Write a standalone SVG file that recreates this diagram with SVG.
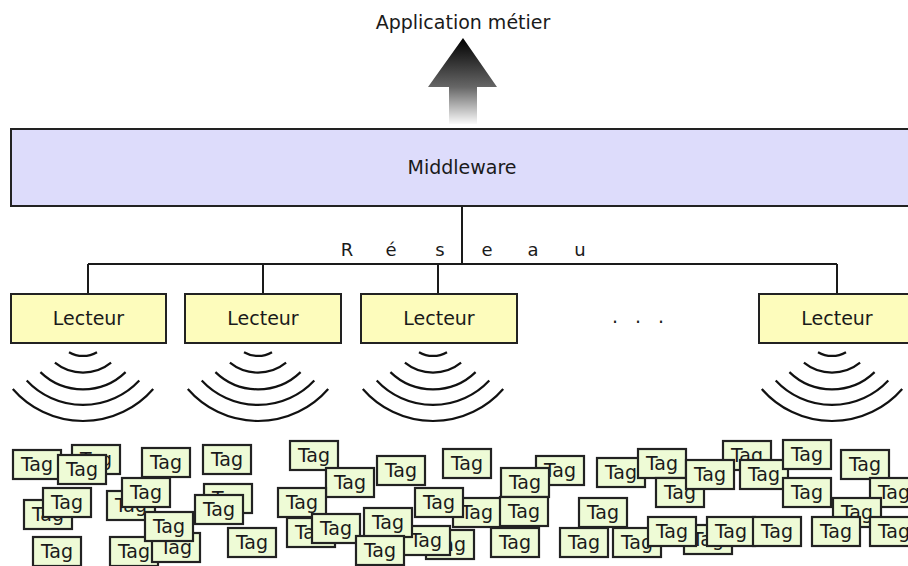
<svg xmlns="http://www.w3.org/2000/svg" xmlns:xlink="http://www.w3.org/1999/xlink" width="908" height="566" viewBox="0 0 908 566">
<style>
text{font-family:"DejaVu Sans","Liberation Sans",sans-serif;fill:#1a1a1a;text-anchor:middle}
.big{font-size:19px}
.res{font-size:18px}
.box{stroke:#222;stroke-width:2}
.mw{fill:#dddcfb}
.rd{fill:#fdfcbc}
.tg rect{fill:#eefbd6;stroke:#222;stroke-width:2.2}
.tg text{font-size:19px}
.wire{stroke:#1a1a1a;stroke-width:2;fill:none}
.wave{stroke:#111;stroke-width:2.2;fill:none}
</style>
<defs>
<linearGradient id="ag" gradientUnits="userSpaceOnUse" x1="0" y1="38" x2="0" y2="124">
<stop offset="0" stop-color="#000"/>
<stop offset="0.57" stop-color="#666"/>
<stop offset="1" stop-color="#fafafa"/>
</linearGradient>
<g id="waves" class="wave">
<path d="M-14 352.2 A28 28 0 0 0 14 352.2"/>
<path d="M-28.1 362.7 A44.7 44.7 0 0 0 28.1 362.7"/>
<path d="M-42.6 372.1 A61.3 61.3 0 0 0 42.6 372.1"/>
<path d="M-56.3 380.5 A77 77 0 0 0 56.3 380.5"/>
<path d="M-70.2 389 A93 93 0 0 0 70.2 389"/>
</g>
</defs>
<rect width="908" height="566" fill="#fff"/>

<g id="app">
<text class="big" x="463" y="29">Application métier</text>
<polygon points="463,38 497,87 477,87 477,124 449,124 449,87 428,87" fill="url(#ag)"/>
</g>

<g id="connectors">
<path class="wire" d="M462 206V264M88 264H837M88 264V294M263 264V294M438 264V294M837 264V294"/>
</g>

<g id="middleware">
<rect class="box mw" x="11" y="129" width="910" height="77"/>
<text class="big" x="462" y="174">Middleware</text>
</g>

<g id="reseau">
<text class="res" x="347 391 440 487 533 580" y="256">Réseau</text>
</g>

<g id="lecteur1"><rect class="box rd" x="11" y="294" width="155" height="49"/><text class="big" x="88.5" y="325">Lecteur</text></g>
<g id="lecteur2"><rect class="box rd" x="185" y="294" width="156" height="49"/><text class="big" x="263" y="325">Lecteur</text></g>
<g id="lecteur3"><rect class="box rd" x="361" y="294" width="156" height="49"/><text class="big" x="439" y="325">Lecteur</text></g>
<g id="dots"><text class="big" x="615 638 661" y="323">...</text></g>
<g id="lecteur4"><rect class="box rd" x="759" y="294" width="160" height="49"/><text class="big" x="837" y="325">Lecteur</text></g>

<g id="ondes">
<use xlink:href="#waves" x="83"/>
<use xlink:href="#waves" x="258"/>
<use xlink:href="#waves" x="433"/>
<use xlink:href="#waves" x="832"/>
</g>

<g id="tags" class="tg">
<g id="tag01" transform="translate(13,450)"><rect width="48" height="29"/><text x="24" y="21">Tag</text></g>
<g id="tag02" transform="translate(72,445)"><rect width="48" height="29"/><text x="24" y="21">Tag</text></g>
<g id="tag03" transform="translate(58,455)"><rect width="48" height="29"/><text x="24" y="21">Tag</text></g>
<g id="tag04" transform="translate(142,448)"><rect width="48" height="29"/><text x="24" y="21">Tag</text></g>
<g id="tag05" transform="translate(24,500)"><rect width="48" height="29"/><text x="24" y="21">Tag</text></g>
<g id="tag06" transform="translate(43,488)"><rect width="48" height="29"/><text x="24" y="21">Tag</text></g>
<g id="tag07" transform="translate(107,491)"><rect width="48" height="29"/><text x="24" y="21">Tag</text></g>
<g id="tag08" transform="translate(122,478)"><rect width="48" height="29"/><text x="24" y="21">Tag</text></g>
<g id="tag09" transform="translate(110,537)"><rect width="48" height="29"/><text x="24" y="21">Tag</text></g>
<g id="tag10" transform="translate(152,533)"><rect width="48" height="29"/><text x="24" y="21">Tag</text></g>
<g id="tag11" transform="translate(145,512)"><rect width="48" height="29"/><text x="24" y="21">Tag</text></g>
<g id="tag12" transform="translate(33,537)"><rect width="48" height="29"/><text x="24" y="21">Tag</text></g>
<g id="tag13" transform="translate(203,445)"><rect width="48" height="29"/><text x="24" y="21">Tag</text></g>
<g id="tag14" transform="translate(204,484)"><rect width="48" height="29"/><text x="24" y="21">Tag</text></g>
<g id="tag15" transform="translate(195,495)"><rect width="48" height="29"/><text x="24" y="21">Tag</text></g>
<g id="tag16" transform="translate(228,528)"><rect width="48" height="29"/><text x="24" y="21">Tag</text></g>
<g id="tag17" transform="translate(290,441)"><rect width="48" height="29"/><text x="24" y="21">Tag</text></g>
<g id="tag18" transform="translate(326,468)"><rect width="48" height="29"/><text x="24" y="21">Tag</text></g>
<g id="tag19" transform="translate(278,488)"><rect width="48" height="29"/><text x="24" y="21">Tag</text></g>
<g id="tag20" transform="translate(287,518)"><rect width="48" height="29"/><text x="24" y="21">Tag</text></g>
<g id="tag21" transform="translate(312,514)"><rect width="48" height="29"/><text x="24" y="21">Tag</text></g>
<g id="tag22" transform="translate(377,456)"><rect width="48" height="29"/><text x="24" y="21">Tag</text></g>
<g id="tag23" transform="translate(443,449)"><rect width="48" height="29"/><text x="24" y="21">Tag</text></g>
<g id="tag24" transform="translate(426,530)"><rect width="48" height="29"/><text x="24" y="21">Tag</text></g>
<g id="tag25" transform="translate(402,526)"><rect width="48" height="29"/><text x="24" y="21">Tag</text></g>
<g id="tag26" transform="translate(364,508)"><rect width="48" height="29"/><text x="24" y="21">Tag</text></g>
<g id="tag27" transform="translate(356,536)"><rect width="48" height="29"/><text x="24" y="21">Tag</text></g>
<g id="tag28" transform="translate(536,456)"><rect width="48" height="29"/><text x="24" y="21">Tag</text></g>
<g id="tag29" transform="translate(501,468)"><rect width="48" height="29"/><text x="24" y="21">Tag</text></g>
<g id="tag30" transform="translate(453,498)"><rect width="48" height="29"/><text x="24" y="21">Tag</text></g>
<g id="tag31" transform="translate(415,488)"><rect width="48" height="29"/><text x="24" y="21">Tag</text></g>
<g id="tag32" transform="translate(500,497)"><rect width="48" height="29"/><text x="24" y="21">Tag</text></g>
<g id="tag33" transform="translate(491,528)"><rect width="48" height="29"/><text x="24" y="21">Tag</text></g>
<g id="tag34" transform="translate(579,498)"><rect width="48" height="29"/><text x="24" y="21">Tag</text></g>
<g id="tag35" transform="translate(560,528)"><rect width="48" height="29"/><text x="24" y="21">Tag</text></g>
<g id="tag36" transform="translate(613,528)"><rect width="48" height="29"/><text x="24" y="21">Tag</text></g>
<g id="tag37" transform="translate(684,525)"><rect width="48" height="29"/><text x="24" y="21">Tag</text></g>
<g id="tag38" transform="translate(648,517)"><rect width="48" height="29"/><text x="24" y="21">Tag</text></g>
<g id="tag39" transform="translate(707,517)"><rect width="48" height="29"/><text x="24" y="21">Tag</text></g>
<g id="tag40" transform="translate(753,517)"><rect width="48" height="29"/><text x="24" y="21">Tag</text></g>
<g id="tag41" transform="translate(597,458)"><rect width="48" height="29"/><text x="24" y="21">Tag</text></g>
<g id="tag42" transform="translate(638,449)"><rect width="48" height="29"/><text x="24" y="21">Tag</text></g>
<g id="tag43" transform="translate(656,478)"><rect width="48" height="29"/><text x="24" y="21">Tag</text></g>
<g id="tag44" transform="translate(723,441)"><rect width="48" height="29"/><text x="24" y="21">Tag</text></g>
<g id="tag45" transform="translate(686,460)"><rect width="48" height="29"/><text x="24" y="21">Tag</text></g>
<g id="tag46" transform="translate(740,460)"><rect width="48" height="29"/><text x="24" y="21">Tag</text></g>
<g id="tag47" transform="translate(783,440)"><rect width="48" height="29"/><text x="24" y="21">Tag</text></g>
<g id="tag48" transform="translate(783,478)"><rect width="48" height="29"/><text x="24" y="21">Tag</text></g>
<g id="tag49" transform="translate(841,450)"><rect width="48" height="29"/><text x="24" y="21">Tag</text></g>
<g id="tag50" transform="translate(870,478)"><rect width="48" height="29"/><text x="24" y="21">Tag</text></g>
<g id="tag51" transform="translate(833,498)"><rect width="48" height="29"/><text x="24" y="21">Tag</text></g>
<g id="tag52" transform="translate(812,517)"><rect width="48" height="29"/><text x="24" y="21">Tag</text></g>
<g id="tag53" transform="translate(870,517)"><rect width="48" height="29"/><text x="24" y="21">Tag</text></g>
</g>
</svg>
